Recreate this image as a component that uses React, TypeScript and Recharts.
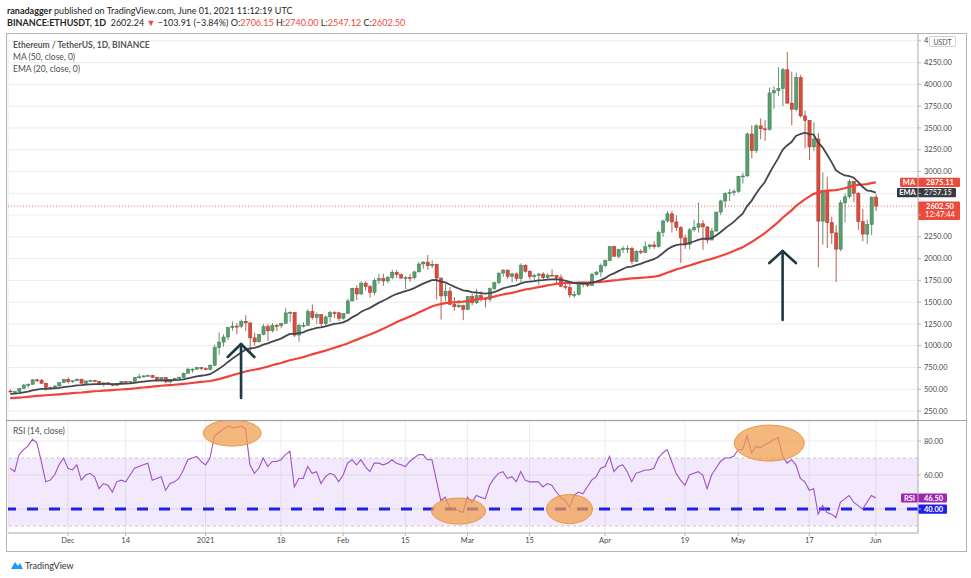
import React from 'react';
import {
  ComposedChart, Bar, Line, XAxis, YAxis, CartesianGrid,
  ReferenceLine, ReferenceArea, ReferenceDot,
} from 'recharts';

// ---------- data (ETH/USDT daily, 18 Nov 2020 .. 1 Jun 2021) ----------
const openPrices = [
  480, 471, 473, 509, 549, 558, 608, 603, 569, 519, 518, 538, 575,
  614, 587, 598, 616, 569, 596, 601, 592, 555, 574, 560, 545, 568, 590, 586, 589, 636, 643, 654, 658, 638, 609, 634, 584, 612, 626, 635, 683, 731, 731, 751,
  737, 730, 774, 978, 1041, 1100, 1208, 1225, 1224, 1281, 1262, 1090, 1044, 1130, 1218, 1171, 1233, 1230, 1257, 1377, 1383, 1122, 1232, 1234, 1392, 1323, 1358, 1253, 1331, 1380, 1378,
  1314, 1369, 1514, 1660, 1594, 1718, 1677, 1613, 1750, 1769, 1743, 1784, 1843, 1815, 1776, 1781, 1780, 1847, 1938, 1960, 1919, 1935, 1777, 1571, 1626, 1475, 1447, 1459,
  1416, 1564, 1492, 1575, 1541, 1533, 1654, 1723, 1834, 1868, 1795, 1825, 1771, 1924, 1854, 1792, 1806, 1823, 1782, 1810, 1806, 1781, 1681, 1669, 1583, 1588, 1700, 1715, 1691, 1819, 1846,
  1919, 1978, 2137, 2027, 2108, 2116, 2117, 1968, 2084, 2072, 2136, 2157, 2138, 2299, 2432, 2514, 2421, 2357, 2237, 2163, 2330, 2357, 2400, 2364, 2213, 2317, 2534, 2662, 2746, 2757,
  2772, 2945, 2949, 3431, 3240, 3524, 3490, 3484, 3902, 3928, 3952, 4168, 3785, 3715, 4079, 3638, 3587, 3282, 3374, 2430, 2780, 2415, 2295, 2109, 2640, 2710, 2886, 2750, 2425, 2281, 2391,
  2706.15,
];
const highPrices = [
  496, 482, 513, 559, 566, 617, 620, 620, 577, 531, 546, 577, 616,
  637, 599, 623, 620, 597, 609, 605, 593, 576, 578, 561, 569, 592, 593, 595, 640, 676, 656, 668, 665, 645, 637, 636, 614, 628, 648, 693, 747, 740, 754, 754,
  749, 787, 1011, 1153, 1130, 1211, 1279, 1260, 1300, 1350, 1264, 1150, 1137, 1250, 1247, 1260, 1250, 1262, 1436, 1395, 1384, 1251, 1270, 1420, 1476, 1380, 1361, 1345, 1400, 1395, 1385,
  1375, 1540, 1665, 1695, 1740, 1741, 1695, 1775, 1824, 1826, 1800, 1872, 1871, 1825, 1800, 1825, 1861, 1960, 1970, 2042, 1980, 1940, 1782, 1712, 1674, 1559, 1525, 1469,
  1570, 1598, 1652, 1623, 1547, 1669, 1735, 1838, 1878, 1874, 1837, 1840, 1947, 1935, 1868, 1827, 1837, 1844, 1829, 1878, 1814, 1818, 1721, 1740, 1626, 1702, 1732, 1725, 1838, 1854, 1943,
  1989, 2145, 2145, 2110, 2145, 2152, 2135, 2097, 2109, 2198, 2165, 2200, 2319, 2449, 2544, 2548, 2497, 2372, 2276, 2350, 2446, 2644, 2440, 2370, 2353, 2537, 2675, 2760, 2798, 2796,
  2951, 2985, 3450, 3530, 3542, 3610, 3590, 3963, 3980, 4197, 4190, 4372, 4147, 4135, 4109, 3700, 3590, 3565, 3442, 2990, 2940, 2480, 2384, 2670, 2748, 2912, 2891, 2763, 2570, 2446, 2713,
  2740,
];
const lowPrices = [
  464, 455, 467, 504, 519, 550, 581, 563, 483, 497, 506, 532, 570,
  567, 570, 591, 566, 562, 585, 583, 546, 530, 549, 535, 543, 563, 581, 579, 583, 624, 631, 647, 629, 605, 586, 574, 565, 607, 620, 631, 682, 690, 720, 720,
  715, 715, 768, 892, 986, 1064, 1172, 1130, 1201, 1170, 920, 1002, 1040, 1120, 1055, 1150, 1169, 1200, 1255, 1270, 1100, 1045, 1210, 1229, 1300, 1250, 1220, 1230, 1270, 1320, 1280,
  1300, 1367, 1510, 1525, 1584, 1634, 1550, 1580, 1710, 1686, 1718, 1763, 1776, 1770, 1651, 1734, 1760, 1842, 1885, 1871, 1892, 1530, 1300, 1511, 1462, 1402, 1433, 1293,
  1409, 1463, 1480, 1505, 1440, 1505, 1637, 1708, 1790, 1766, 1726, 1740, 1730, 1840, 1760, 1730, 1700, 1762, 1769, 1805, 1720, 1672, 1645, 1555, 1550, 1578, 1669, 1673, 1690, 1806, 1790,
  1900, 1968, 2025, 2003, 2066, 2063, 1932, 1962, 2050, 2064, 2107, 2112, 2126, 2251, 2412, 2300, 2318, 1950, 2111, 2106, 2310, 2300, 2100, 2173, 2211, 2307, 2500, 2584, 2660, 2722,
  2755, 2861, 2939, 3150, 3213, 3370, 3350, 3468, 3720, 3868, 3750, 3780, 3528, 3690, 3620, 3266, 3132, 3233, 1900, 2160, 2120, 2168, 1730, 2084, 2416, 2691, 2648, 2330, 2200, 2170, 2270,
  2547.12,
];
const closePrices = [
  471, 473, 509, 549, 558, 608, 603, 569, 519, 518, 538, 575, 614,
  587, 598, 616, 569, 596, 601, 592, 555, 574, 560, 545, 568, 590, 586, 589, 636, 643, 654, 658, 638, 609, 634, 584, 612, 626, 635, 683, 731, 731, 751, 737,
  730, 774, 978, 1041, 1100, 1208, 1225, 1224, 1281, 1262, 1090, 1044, 1130, 1218, 1171, 1233, 1230, 1257, 1377, 1383, 1122, 1232, 1234, 1392, 1323, 1358, 1253, 1331, 1380, 1378, 1314,
  1369, 1514, 1660, 1594, 1718, 1677, 1613, 1750, 1769, 1743, 1784, 1843, 1815, 1776, 1781, 1780, 1847, 1938, 1960, 1919, 1935, 1777, 1571, 1626, 1475, 1447, 1459, 1416,
  1564, 1492, 1575, 1541, 1533, 1654, 1723, 1834, 1868, 1795, 1825, 1771, 1924, 1854, 1792, 1806, 1823, 1782, 1810, 1806, 1781, 1681, 1669, 1583, 1588, 1700, 1715, 1691, 1819, 1846, 1919,
  1978, 2137, 2027, 2108, 2116, 2117, 1968, 2084, 2072, 2136, 2157, 2138, 2299, 2432, 2514, 2421, 2357, 2237, 2163, 2330, 2357, 2400, 2364, 2213, 2317, 2534, 2662, 2746, 2757, 2772,
  2945, 2949, 3431, 3240, 3524, 3490, 3484, 3902, 3928, 3952, 4168, 3785, 3715, 4079, 3638, 3587, 3282, 3374, 2430, 2780, 2415, 2295, 2109, 2640, 2710, 2886, 2750, 2425, 2281, 2391, 2706,
  2602.5,
];
const ma50 = [
  399, 401, 404, 408, 413, 418, 423, 427, 431, 434, 438, 442, 446,
  450, 455, 460, 463, 468, 473, 477, 480, 485, 488, 491, 494, 497, 501, 505, 509, 515, 520, 525, 530, 535, 540, 544, 548, 552, 556, 561, 566, 572, 578, 584,
  589, 595, 605, 617, 630, 645, 660, 675, 690, 704, 715, 724, 734, 747, 760, 775, 788, 802, 817, 833, 844, 856, 869, 885, 900, 915, 929, 944, 960, 977, 992,
  1008, 1026, 1048, 1067, 1088, 1109, 1128, 1150, 1173, 1195, 1219, 1244, 1268, 1291, 1313, 1334, 1356, 1380, 1404, 1428, 1451, 1467, 1478, 1488, 1494, 1498, 1503, 1505,
  1511, 1519, 1530, 1538, 1545, 1554, 1564, 1576, 1588, 1597, 1606, 1619, 1632, 1645, 1653, 1662, 1672, 1682, 1692, 1700, 1709, 1716, 1722, 1723, 1722, 1724, 1724, 1724, 1728, 1730, 1733,
  1738, 1745, 1749, 1754, 1761, 1768, 1772, 1776, 1779, 1783, 1787, 1792, 1802, 1819, 1837, 1856, 1874, 1890, 1905, 1920, 1937, 1954, 1970, 1984, 1997, 2013, 2030, 2047, 2067, 2086,
  2109, 2129, 2161, 2190, 2224, 2258, 2292, 2334, 2376, 2419, 2469, 2511, 2554, 2604, 2643, 2680, 2712, 2743, 2755, 2772, 2781, 2784, 2786, 2796, 2808, 2823, 2839, 2846, 2850, 2855, 2866,
  2875.11,
];
const ema20 = [
  448, 450, 456, 464, 473, 486, 497, 504, 505, 507, 510, 516, 525,
  531, 537, 545, 547, 552, 557, 560, 559, 561, 561, 559, 560, 563, 565, 567, 574, 581, 588, 594, 598, 599, 603, 601, 602, 604, 607, 614, 626, 636, 647, 655,
  662, 673, 702, 734, 769, 811, 850, 885, 923, 955, 968, 975, 990, 1012, 1027, 1046, 1064, 1082, 1110, 1136, 1135, 1144, 1153, 1175, 1189, 1205, 1210, 1221, 1236, 1250, 1256,
  1267, 1290, 1325, 1351, 1386, 1413, 1432, 1463, 1492, 1516, 1541, 1570, 1593, 1610, 1627, 1641, 1661, 1687, 1713, 1733, 1752, 1754, 1737, 1726, 1702, 1678, 1657, 1635,
  1628, 1615, 1611, 1604, 1598, 1603, 1614, 1635, 1657, 1671, 1685, 1693, 1715, 1729, 1735, 1741, 1749, 1752, 1758, 1762, 1764, 1756, 1748, 1732, 1719, 1717, 1717, 1714, 1724, 1736, 1753,
  1775, 1809, 1830, 1856, 1881, 1903, 1909, 1926, 1940, 1959, 1977, 1993, 2022, 2061, 2104, 2134, 2155, 2163, 2163, 2179, 2196, 2215, 2229, 2228, 2236, 2265, 2302, 2345, 2384, 2421,
  2470, 2516, 2603, 2663, 2745, 2816, 2879, 2977, 3067, 3151, 3248, 3299, 3338, 3409, 3430, 3445, 3430, 3425, 3330, 3278, 3196, 3110, 3015, 2979, 2954, 2947, 2929, 2881, 2824, 2783, 2775,
  2757.15,
];
const rsi14 = [
  64, 62, 72, 75, 77, 81, 79, 68, 56, 57, 60, 66, 70,
  64, 63, 66, 57, 60, 61, 59, 52, 55, 54, 50, 56, 57, 56, 60, 64, 65, 66, 67, 57, 58, 59, 51, 55, 56, 58, 63, 69, 70, 71, 68,
  66, 70, 83, 85, 87, 89, 88, 88, 89, 87, 66, 61, 64, 70, 65, 68, 68, 69, 72, 74, 53, 58, 58, 65, 61, 62, 55, 59, 61, 60, 56,
  60, 67, 69, 66, 69, 65, 62, 67, 67, 66, 67, 69, 67, 66, 65, 68, 70, 72, 72, 69, 69, 57, 45, 47, 41, 40, 39, 38,
  47, 44, 48, 47, 46, 54, 58, 61, 62, 58, 59, 56, 62, 57, 56, 56, 56, 53, 55, 54, 50, 47, 45, 41, 48, 50, 49, 53, 57, 59, 64,
  65, 71, 62, 65, 66, 62, 56, 61, 62, 63, 63, 64, 70, 73, 75, 68, 61, 57, 54, 60, 61, 62, 60, 52, 60, 64, 68, 70, 70, 71,
  75, 75, 83, 73, 77, 76, 78, 79, 81, 82, 71, 67, 69, 66, 58, 56, 51, 52, 37, 42, 38, 37, 35, 44, 46, 48, 44, 42, 40, 44, 48,
  46.5,
];

const tickDates = ['2020-12-01', '2020-12-14', '2021-01-01', '2021-01-18', '2021-02-01', '2021-02-15', '2021-03-01', '2021-03-15', '2021-04-01', '2021-04-19', '2021-05-01', '2021-05-17', '2021-06-01'];
const tickLabels = ['Dec', '14', '2021', '18', 'Feb', '15', 'Mar', '15', 'Apr', '19', 'May', '17', 'Jun'];
const priceTicks = [250, 500, 750, 1000, 1250, 1500, 1750, 2000, 2250, 2500, 2750, 3000, 3250, 3500, 3750, 4000, 4250, 4500];
const rsiTicks = [40, 60, 80];
const futureDays = 9; // empty space to the right of the last candle, as on TradingView

// annotations (data coordinates)
const arrowMarks = [
  { tip: '2021-01-09', left: '2021-01-06', right: '2021-01-12', base: 399, top: 1019, wing: 870 },
  { tip: '2021-05-11', left: '2021-05-08', right: '2021-05-14', base: 1295, top: 2087, wing: 1949 },
];
const rsiMarks = [
  { date: '2021-01-07', value: 84.7 },
  { date: '2021-02-27', value: 38.8 },
  { date: '2021-03-24', value: 40 },
  { date: '2021-05-08', value: 78.8 },
];
const rsiMarkSizes = [[29, 13], [27, 13], [23, 14.5], [35, 18]];

const dates = Array.from({ length: closePrices.length + futureDays }, (_, i) =>
  new Date(Date.UTC(2020, 10, 18 + i)).toISOString().slice(0, 10));
const rows = dates.map((date, i) => (i < closePrices.length ? {
  date,
  open: openPrices[i], high: highPrices[i], low: lowPrices[i], close: closePrices[i],
  ma: ma50[i], ema: ema20[i], rsi: rsi14[i],
} : { date }));

// ---------- styles ----------
const FONT = 'Lato, "Open Sans", sans-serif';
const UP = '#5a9e70';
const UP_EDGE = '#3d7a52';
const DOWN = '#d94c3d';
const DOWN_EDGE = '#a8372b';
const RED = '#ee4a3c';
const DARK = '#363a45';
const PURPLE = '#9c27b0';
const BLUE = '#1f1fe8';
const GRID = '#ececec';
const AXIS = '#b4b4b4';
const TICK_STYLE = { fill: '#4a4a4a', fontSize: 7.5, fontFamily: FONT };
const TICK_TEXT: React.CSSProperties = { fill: '#4a4a4a', fontSize: 7.5, fontFamily: FONT };
const BOX_TEXT: React.CSSProperties = { fontFamily: FONT, fontSize: 7.5, fontWeight: 700, fill: '#fff' };

const Candle = (props: any) => {
  const { x, y, width, height, payload } = props;
  if (!payload || payload.high == null || x == null || y == null) return null;
  const { open, close, high, low } = payload;
  const top = Math.min(y, y + height);
  const h = Math.abs(height);
  const k = high > low ? h / (high - low) : 0;
  const yO = top + (high - open) * k;
  const yC = top + (high - close) * k;
  const up = close >= open;
  const cx = x + width / 2;
  const bTop = Math.min(yO, yC);
  const bH = Math.max(1, Math.abs(yC - yO));
  return (
    <g>
      <line x1={cx} x2={cx} y1={top} y2={top + h} stroke={up ? UP_EDGE : DOWN_EDGE} strokeWidth={0.8} />
      <rect x={cx - 1.6} y={bTop} width={3.2} height={bH} fill={up ? UP : DOWN} stroke={up ? UP_EDGE : DOWN_EDGE} strokeWidth={0.5} />
    </g>
  );
};

// right-axis tick: 2500 sits under the last-price tag and 4500 under the USDT badge
const priceTick = (p: any) => {
  const v = p.payload ? p.payload.value : 0;
  if (v === 2500) return <g />;
  const s = v === 4500 ? '4' : Number(v).toFixed(2);
  return <text x={p.x} y={p.y} dy="0.35em" textAnchor="start" style={TICK_TEXT}>{s}</text>;
};
const rsiTick = (p: any) => {
  const v = p.payload ? p.payload.value : 0;
  if (v === 40) return <g />;
  return <text x={p.x} y={p.y} dy="0.35em" textAnchor="start" style={TICK_TEXT}>{Number(v).toFixed(2)}</text>;
};

const vbOf = (p: any) => {
  const vb = p && p.viewBox ? p.viewBox : { x: 8, y: 0, width: 910 };
  return { xr: (vb.x || 0) + (vb.width || 0), y: vb.y || 0 };
};

const makeTag = (tag: string | null, tagW: number, text: string, valW: number, bg: string, tagBg: string) => (p: any) => {
  const { xr, y } = vbOf(p);
  return (
    <g>
      {tag ? <rect x={xr - tagW} y={y - 4.6} width={tagW} height={9.2} fill={tagBg} rx={1} /> : null}
      {tag ? <text x={xr - tagW / 2} y={y + 2.7} textAnchor="middle" style={BOX_TEXT}>{tag}</text> : null}
      <rect x={xr} y={y - 4.6} width={valW} height={9.2} fill={bg} rx={1} />
      <text x={xr + valW / 2 + 1} y={y + 2.7} textAnchor="middle" style={BOX_TEXT}>{text}</text>
    </g>
  );
};

const priceTag = (p: any) => {
  const { xr, y } = vbOf(p);
  return (
    <g>
      <rect x={xr} y={y - 4.5} width={42} height={18.5} fill={RED} rx={1} />
      <text x={xr + 22} y={y + 2.8} textAnchor="middle" style={BOX_TEXT}>{closePrices[closePrices.length - 1].toFixed(2)}</text>
      <text x={xr + 22} y={y + 11.2} textAnchor="middle" style={{ ...BOX_TEXT, fontWeight: 400 }}>12:47:44</text>
    </g>
  );
};

const maTag = makeTag('MA', 18, ma50[ma50.length - 1].toFixed(2), 42, RED, RED);
const emaTag = makeTag('EMA', 21, ema20[ema20.length - 1].toFixed(2), 38, DARK, DARK);
const rsiTag = makeTag('RSI', 17, rsi14[rsi14.length - 1].toFixed(2), 29, PURPLE, PURPLE);
const blueTag = makeTag(null, 0, (40).toFixed(2), 29, BLUE, BLUE);

const ellipseShape = (rx: number, ry: number) => (p: any) => (
  <ellipse cx={p.cx} cy={p.cy} rx={rx} ry={ry} fill="#f19c4a" fillOpacity={0.72} stroke="#e39a45" strokeWidth={1} />
);

const fmtDate = (v: string) => {
  const i = tickDates.indexOf(v);
  return i >= 0 ? tickLabels[i] : '';
};

const candleRange = (d: any) => (d.high == null ? null : [d.low, d.high]);

const line = (style: React.CSSProperties) => <div style={{ position: 'absolute', background: AXIS, ...style }} />;

export default function App() {
  return (
    <div style={{ position: 'absolute', left: 0, top: 0, width: 971, height: 578, background: '#fff', fontFamily: FONT, overflow: 'hidden' }}>
      {/* header */}
      <div style={{ position: 'absolute', left: 7, top: 4, fontSize: 9, lineHeight: '13px', color: '#262626', whiteSpace: 'nowrap' }}>
        <b>ranadagger</b> published on TradingView.com, June 01, 2021 11:12:19 UTC
      </div>
      <div style={{ position: 'absolute', left: 7, top: 16, fontSize: 9, lineHeight: '13px', color: '#262626', whiteSpace: 'nowrap' }}>
        <b>BINANCE:ETHUSDT, 1D</b>&nbsp; 2602.24 <span style={{ color: RED }}>▼</span> −103.91 (−3.84%) O:<span style={{ color: RED }}>2706.15</span> H:<span style={{ color: RED }}>2740.00</span> L:<span style={{ color: RED }}>2547.12</span> C:<span style={{ color: RED }}>2602.50</span>
      </div>

      {/* main price pane */}
      <div style={{ position: 'absolute', left: 0, top: 33 }}>
        <ComposedChart width={966} height={387} data={rows} margin={{ top: 0, right: 0, bottom: 0, left: 8 }}>
          <CartesianGrid stroke={GRID} strokeWidth={1} />
          <XAxis dataKey="date" scale="band" height={0} ticks={tickDates} interval={0} tick={false} axisLine={false} tickLine={false} />
          <YAxis orientation="right" width={48} domain={[147, 4590]} allowDataOverflow ticks={priceTicks} interval={0}
            tick={priceTick} axisLine={{ stroke: AXIS }} tickLine={{ stroke: AXIS }} tickSize={3} tickMargin={3} />
          <ReferenceLine y={closePrices[closePrices.length - 1]} stroke={RED} strokeWidth={0.8} strokeDasharray="1 2" label={priceTag} />
          <Bar dataKey={candleRange} barSize={3} shape={Candle} isAnimationActive={false} />
          <Line dataKey="ma" stroke="#f0433a" strokeWidth={2.2} dot={false} activeDot={false} isAnimationActive={false} />
          <Line dataKey="ema" stroke="#43474d" strokeWidth={1.8} dot={false} activeDot={false} isAnimationActive={false} />
          <ReferenceLine y={ma50[ma50.length - 1]} stroke="none" label={maTag} />
          <ReferenceLine y={ema20[ema20.length - 1]} stroke="none" label={emaTag} />
          {arrowMarks.map((a, i) => (
            <ReferenceLine key={'s' + i} segment={[{ x: a.tip, y: a.base }, { x: a.tip, y: a.top }]} stroke="#1e3a40" strokeWidth={2.6} strokeLinecap="round" />
          ))}
          {arrowMarks.map((a, i) => (
            <ReferenceLine key={'l' + i} segment={[{ x: a.left, y: a.wing }, { x: a.tip, y: a.top }]} stroke="#1e3a40" strokeWidth={2.6} strokeLinecap="round" />
          ))}
          {arrowMarks.map((a, i) => (
            <ReferenceLine key={'r' + i} segment={[{ x: a.tip, y: a.top }, { x: a.right, y: a.wing }]} stroke="#1e3a40" strokeWidth={2.6} strokeLinecap="round" />
          ))}
        </ComposedChart>
      </div>

      {/* RSI pane */}
      <div style={{ position: 'absolute', left: 0, top: 420 }}>
        <ComposedChart width={966} height={132} data={rows} margin={{ top: 1, right: 0, bottom: 0, left: 8 }}>
          <CartesianGrid stroke={GRID} strokeWidth={1} />
          <XAxis dataKey="date" scale="band" height={19} ticks={tickDates} interval={0}
            tickFormatter={fmtDate} tick={TICK_STYLE} axisLine={{ stroke: AXIS }} tickLine={{ stroke: AXIS }} tickSize={3} tickMargin={2} />
          <YAxis orientation="right" width={48} domain={[25.9, 91.8]} allowDataOverflow ticks={rsiTicks} interval={0}
            tick={rsiTick} axisLine={{ stroke: AXIS }} tickLine={{ stroke: AXIS }} tickSize={3} tickMargin={3} />
          <ReferenceArea y1={30} y2={70} fill="#9b5de5" fillOpacity={0.13} stroke="none" />
          <ReferenceLine y={70} stroke="#bdbdbd" strokeDasharray="3 3" strokeWidth={0.8} />
          <ReferenceLine y={30} stroke="#bdbdbd" strokeDasharray="3 3" strokeWidth={0.8} />
          {rsiMarks.map((m, i) => (
            <ReferenceDot key={i} x={m.date} y={m.value} r={1} shape={ellipseShape(rsiMarkSizes[i][0], rsiMarkSizes[i][1])} />
          ))}
          <ReferenceLine y={40} stroke={BLUE} strokeWidth={3} strokeDasharray="11 11" label={blueTag} />
          <Line dataKey="rsi" stroke="#a050c8" strokeWidth={1.1} dot={false} activeDot={false} isAnimationActive={false} />
          <ReferenceLine y={rsi14[rsi14.length - 1]} stroke="none" label={rsiTag} />
        </ComposedChart>
      </div>

      {/* legends */}
      <div style={{ position: 'absolute', left: 13, top: 39, fontSize: 8.5, lineHeight: '12px', color: '#4d4d4d', whiteSpace: 'nowrap' }}>
        <div style={{ fontWeight: 700, color: '#555' }}>Ethereum / TetherUS, 1D, BINANCE</div>
        <div>MA (50, close, 0)</div>
        <div>EMA (20, close, 0)</div>
      </div>
      <div style={{ position: 'absolute', left: 13, top: 425, fontSize: 8.5, lineHeight: '12px', color: '#4d4d4d', whiteSpace: 'nowrap' }}>RSI (14, close)</div>

      {/* USDT badge */}
      <div style={{ position: 'absolute', left: 929, top: 36, width: 27, height: 11, border: '1px solid #d0d0d0', borderRadius: 2, background: '#fff', fontSize: 7, lineHeight: '11px', textAlign: 'center', color: '#555', boxSizing: 'border-box' }}>USDT</div>

      {/* frame */}
      {line({ left: 6, top: 33, width: 961, height: 1 })}
      {line({ left: 6, top: 551, width: 961, height: 1 })}
      {line({ left: 6, top: 33, width: 1, height: 519 })}
      {line({ left: 966, top: 33, width: 1, height: 519 })}
      {line({ left: 6, top: 420, width: 961, height: 1, background: '#9e9e9e' })}

      {/* footer logo */}
      <svg style={{ position: 'absolute', left: 10, top: 560 }} width={14} height={11}>
        <path d="M1 9 L5 2 L8 6 L10 3 L13 9 Z" fill="#2196f3" />
      </svg>
      <div style={{ position: 'absolute', left: 25, top: 559, fontSize: 9, lineHeight: '13px', color: '#333' }}>TradingView</div>
    </div>
  );
}
